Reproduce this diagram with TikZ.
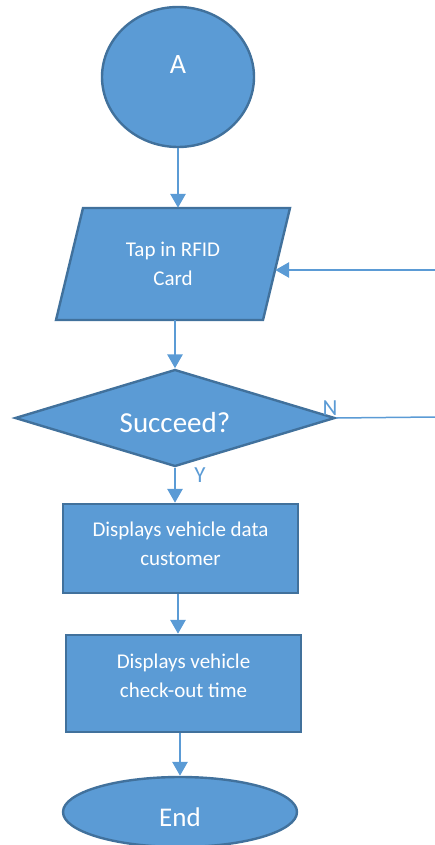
\documentclass[tikz,border=0pt]{standalone}
\usepackage{fontspec}
\setmainfont{Carlito}
\usetikzlibrary{shapes.geometric,arrows.meta}
\definecolor{boxfill}{HTML}{5B9BD5}
\definecolor{boxline}{HTML}{41719C}
\tikzset{
  shp/.style={draw=boxline,fill=boxfill,line width=2.4pt,inner sep=0pt},
  txt/.style={text=white,align=center,font=\fontsize{21}{29}\selectfont},
  arr/.style={draw=boxfill,line width=2.8pt,-{Triangle[width=15pt,length=14pt]}},
  lbl/.style={text=boxfill,font=\fontsize{23}{25}\selectfont,inner sep=0pt}
}
\begin{document}
\begin{tikzpicture}[x=1pt,y=-1pt]
\useasboundingbox (0,0) rectangle (435,845);
\node[shp,ellipse,minimum width=152pt,minimum height=140pt,
  label={[txt,font=\fontsize{28}{30}\selectfont,yshift=12pt]center:A}] (A) at (178,77) {};
% parallelogram (input)
\draw[shp,line join=miter] (83,208) -- (290,208) -- (263,320) -- (56,320) -- cycle;
\node[inner sep=0pt,minimum width=204pt,minimum height=112pt,
  label={[txt]center:Tap in RFID\\Card}] (tap) at (173,264) {};
\node[shp,diamond,minimum width=320pt,minimum height=97pt,
  label={[txt,font=\fontsize{29}{31}\selectfont,yshift=-5pt]center:Succeed?}] (dec) at (175,418) {};
\node[shp,rectangle,minimum width=235pt,minimum height=89pt,
  label={[txt,yshift=4.5pt]center:Displays vehicle data\\customer}] (r1) at (180.5,548.5) {};
\node[shp,rectangle,minimum width=235pt,minimum height=97pt,
  label={[txt,yshift=8pt]center:Displays vehicle\\check-out time}] (r2) at (183.5,683.5) {};
\node[shp,ellipse,minimum width=234pt,minimum height=70pt,
  label={[txt,font=\fontsize{27}{29}\selectfont,yshift=-5pt]center:End}] (end) at (180,812) {};
\coordinate (rin) at (435,270);
\coordinate (nend) at (435,417);
\draw[arr] (A.south) -- (A.south |- tap.north);
\draw[arr] (tap.south -| dec.north) -- (dec.north);
\draw[arr] (dec.south) -- (dec.south |- r1.north);
\draw[arr] (r1.south -| 178,0) -- (178,0 |- r2.north);
\draw[arr] (r2.south -| end.north) -- (end.north);
\draw[arr] (rin) -- (rin -| tap.east);
\draw[draw=boxfill,line width=1.5pt] (dec.east) -- (nend);
\node[lbl] (nlab) at (330,408) {N};
\node[lbl] (ylab) at (200,475) {Y};
\end{tikzpicture}
\end{document}
